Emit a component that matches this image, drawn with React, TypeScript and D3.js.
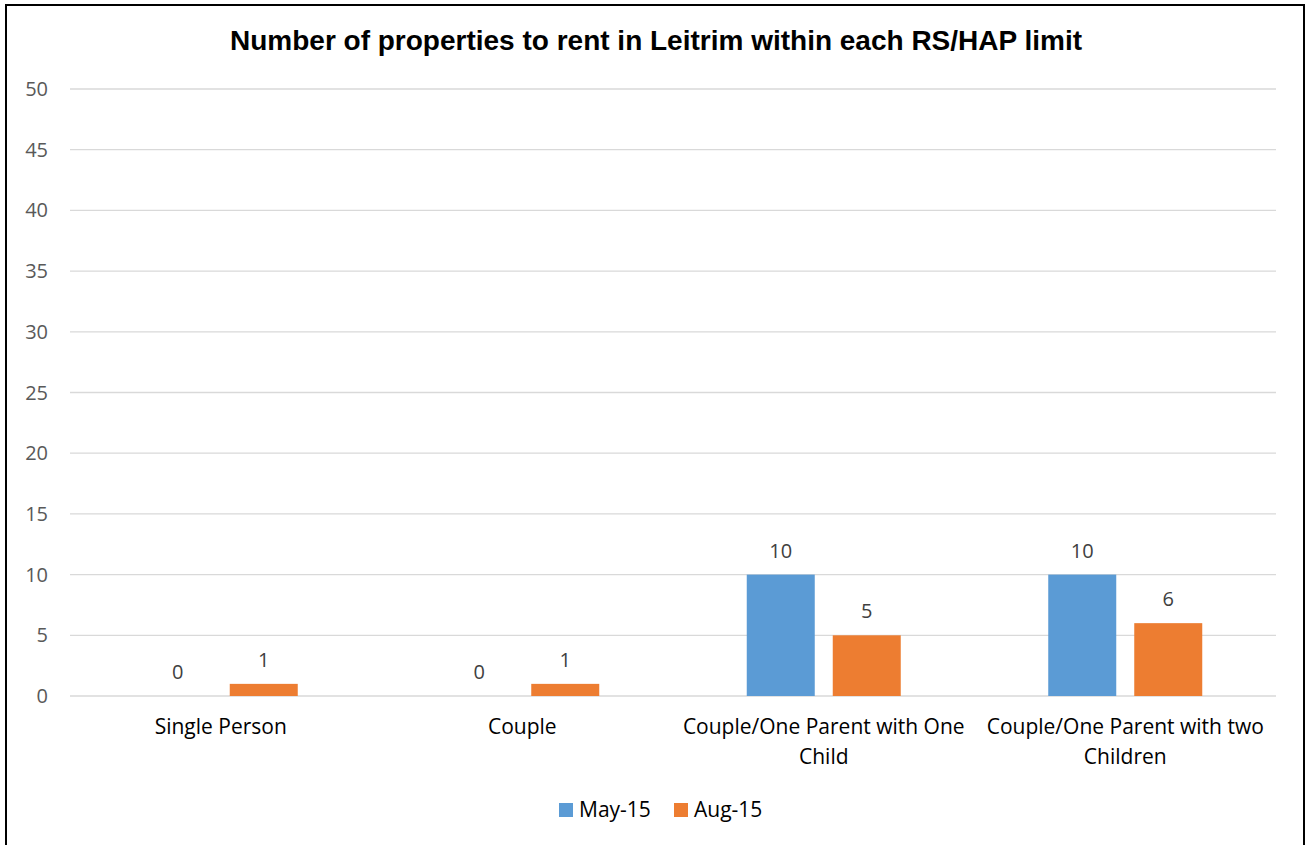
import React from "react";
import * as d3 from "d3";

const categories: string[][] = [
  ["Single Person"],
  ["Couple"],
  ["Couple/One Parent with One", "Child"],
  ["Couple/One Parent with two", "Children"],
];
const seriesNames = ["May-15", "Aug-15"];
const may15 = [0, 0, 10, 10];
const aug15 = [1, 1, 5, 6];
const yTicks = [0, 5, 10, 15, 20, 25, 30, 35, 40, 45, 50];
const colors = ["#5b9bd5", "#ed7d31"];
const title = "Number of properties to rent in Leitrim within each RS/HAP limit";

const W = 1311;
const H = 845;
const plotLeft = 70;
const plotRight = 1276;
const plotTop = 89;
const plotBottom = 696;
const FONT = "'Open Sans', Carlito, Calibri, sans-serif";

export default function App() {
  const seriesValues = [may15, aug15];
  const x0 = d3
    .scaleBand<number>()
    .domain(categories.map((_, i) => i))
    .range([plotLeft, plotRight])
    .paddingInner(0)
    .paddingOuter(0);
  const groupW = 154;
  const x1 = d3
    .scaleBand<number>()
    .domain(seriesNames.map((_, i) => i))
    .range([0, groupW])
    .paddingInner(1 - 68 / 86)
    .paddingOuter(0);
  const y = d3.scaleLinear().domain([0, 50]).range([plotBottom, plotTop]);

  return (
    <svg
      width={W}
      height={H}
      style={{ position: "absolute", left: 0, top: 0, background: "#fff" }}
    >
      <rect x={0} y={0} width={W} height={H} fill="#fff" />
      <rect x={6} y={5} width={1298} height={H + 10} fill="none" stroke="#000" strokeWidth={2} />
      <text
        x={656}
        y={50}
        textAnchor="middle"
        fontFamily="'Liberation Sans', Arial, sans-serif"
        fontWeight="bold"
        fontSize={28}
        fill="#000"
      >
        {title}
      </text>
      {yTicks.map((t) => (
        <g key={t}>
          <line
            x1={plotLeft}
            x2={plotRight}
            y1={y(t)}
            y2={y(t)}
            stroke="#d9d9d9"
            strokeWidth={1.3}
          />
          <text
            x={48}
            y={y(t)}
            dy="0.35em"
            textAnchor="end"
            fontFamily={FONT}
            fontSize={20}
            fill="#595959"
          >
            {t}
          </text>
        </g>
      ))}
      {categories.map((cat, ci) => {
        const cx = (x0(ci) as number) + x0.bandwidth() / 2;
        const gx = cx - groupW / 2;
        return (
          <g key={ci}>
            {seriesValues.map((vals, si) => {
              const v = vals[ci];
              const bx = gx + (x1(si) as number);
              const bw = x1.bandwidth();
              return (
                <g key={si}>
                  {v > 0 && (
                    <rect
                      x={bx}
                      y={y(v)}
                      width={bw}
                      height={y(0) - y(v)}
                      fill={colors[si]}
                    />
                  )}
                  <text
                    x={bx + bw / 2}
                    y={y(v) - 24}
                    dy="0.35em"
                    textAnchor="middle"
                    fontFamily={FONT}
                    fontSize={20}
                    fill="#404040"
                  >
                    {v}
                  </text>
                </g>
              );
            })}
            {cat.map((line, li) => (
              <text
                key={li}
                x={cx}
                y={727 + li * 30}
                dy="0.35em"
                textAnchor="middle"
                fontFamily={FONT}
                fontSize={21}
                fill="#000"
              >
                {line}
              </text>
            ))}
          </g>
        );
      })}
      {seriesNames.map((name, si) => {
        const lx = si === 0 ? 559 : 674;
        return (
          <g key={name}>
            <rect x={lx} y={803} width={14} height={14} fill={colors[si]} />
            <text
              x={lx + 20}
              y={810}
              dy="0.35em"
              fontFamily={FONT}
              fontSize={21}
              fill="#000"
            >
              {name}
            </text>
          </g>
        );
      })}
    </svg>
  );
}
